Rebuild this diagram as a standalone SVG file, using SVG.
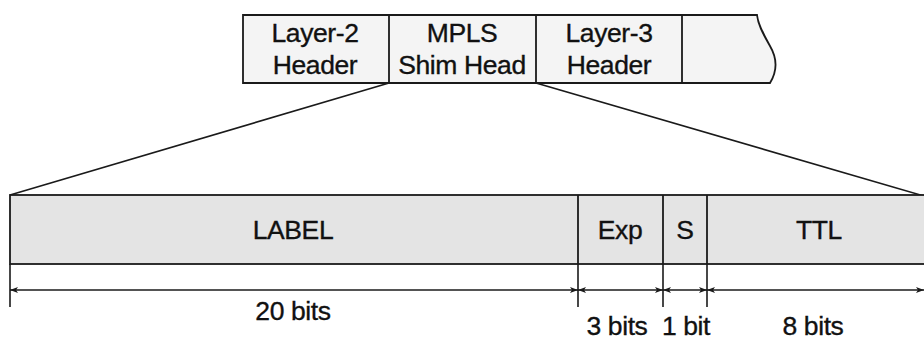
<svg xmlns="http://www.w3.org/2000/svg" width="924" height="340" viewBox="0 0 924 340">
  <style>
    .ln { stroke: #1a1a1a; stroke-width: 1.6; fill: none; }
    .box { stroke: #1a1a1a; stroke-width: 1.8; }
    .top { fill: #f4f4f4; }
    .fld { fill: #e4e4e4; }
    text { font-family: "Liberation Sans", Arial, sans-serif; fill: #111; stroke: #111; stroke-width: 0.35; text-anchor: middle; letter-spacing: -0.4px; }
    .t1 { font-size: 26.5px; }
    .t2 { font-size: 26.5px; }
  </style>
  <defs>
    <marker id="ah" viewBox="0 0 8 6" refX="8" refY="3" markerWidth="8" markerHeight="6" markerUnits="userSpaceOnUse" orient="auto-start-reverse">
      <path d="M0,0 L8,3 L0,6 L2,3 Z" fill="#1a1a1a"/>
    </marker>
  </defs>

  <!-- packet: headers row -->
  <g id="packet">
    <path class="box top" d="M243,15 H757 C758,24 762,32 770,46 C777,58 778,70 770,83 H243 Z"/>
    <line class="box" x1="389" y1="15" x2="389" y2="83"/>
    <line class="box" x1="536" y1="15" x2="536" y2="83"/>
    <line class="box" x1="682" y1="15" x2="682" y2="83"/>
  </g>
  <g id="layer2">
    <text class="t1" x="315" y="42">Layer-2</text>
    <text class="t1" x="315" y="74">Header</text>
  </g>
  <g id="mpls">
    <text class="t1" x="462" y="42">MPLS</text>
    <text class="t1" x="462" y="74">Shim Head</text>
  </g>
  <g id="layer3">
    <text class="t1" x="609" y="42">Layer-3</text>
    <text class="t1" x="609" y="74">Header</text>
  </g>

  <!-- expansion of the shim header -->
  <g id="connectors">
    <line class="ln" x1="389" y1="83" x2="10" y2="195" stroke-width="1.3"/>
    <line class="ln" x1="536" y1="83" x2="924" y2="196" stroke-width="1.3"/>
  </g>

  <!-- shim header fields -->
  <g id="shim">
    <rect class="box fld" x="10" y="195" width="920" height="69"/>
    <line class="box" x1="578" y1="195" x2="578" y2="264"/>
    <line class="box" x1="663" y1="195" x2="663" y2="264"/>
    <line class="box" x1="707" y1="195" x2="707" y2="264"/>
  </g>
  <g id="label"><text class="t2" x="293" y="239">LABEL</text></g>
  <g id="exp"><text class="t2" x="620" y="239">Exp</text></g>
  <g id="s"><text class="t2" x="685" y="239">S</text></g>
  <g id="ttl"><text class="t2" x="819" y="239">TTL</text></g>

  <!-- bit widths -->
  <g id="dimensions">
    <line class="ln" x1="10" y1="264" x2="10" y2="307"/>
    <line class="ln" x1="578" y1="264" x2="578" y2="307"/>
    <line class="ln" x1="663" y1="264" x2="663" y2="307"/>
    <line class="ln" x1="707" y1="264" x2="707" y2="307"/>
    <line class="ln" x1="10" y1="290" x2="578" y2="290" marker-start="url(#ah)" marker-end="url(#ah)"/>
    <line class="ln" x1="578" y1="290" x2="663" y2="290" marker-start="url(#ah)" marker-end="url(#ah)"/>
    <line class="ln" x1="663" y1="290" x2="707" y2="290" marker-start="url(#ah)" marker-end="url(#ah)"/>
    <line class="ln" x1="707" y1="290" x2="924" y2="290" marker-start="url(#ah)" marker-end="url(#ah)"/>
    <text class="t2" x="293" y="320">20 bits</text>
    <text class="t2" x="617" y="335">3 bits</text>
    <text class="t2" x="686" y="335">1 bit</text>
    <text class="t2" x="813" y="335">8 bits</text>
  </g>
</svg>
